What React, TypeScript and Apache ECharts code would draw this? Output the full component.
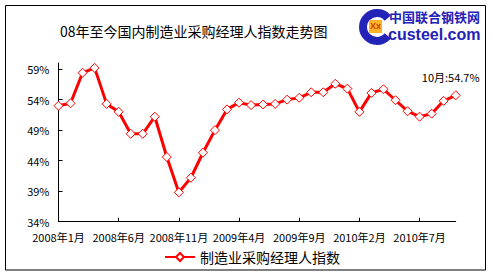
import React, { useEffect, useRef } from "react";
import * as echarts from "echarts";

const months: string[] = [
  "2008年1月", "2008年2月", "2008年3月", "2008年4月", "2008年5月", "2008年6月",
  "2008年7月", "2008年8月", "2008年9月", "2008年10月", "2008年11月", "2008年12月",
  "2009年1月", "2009年2月", "2009年3月", "2009年4月", "2009年5月", "2009年6月",
  "2009年7月", "2009年8月", "2009年9月", "2009年10月", "2009年11月", "2009年12月",
  "2010年1月", "2010年2月", "2010年3月", "2010年4月", "2010年5月", "2010年6月",
  "2010年7月", "2010年8月", "2010年9月", "2010年10月",
];

const pmi: number[] = [
  53.0, 53.4, 58.4, 59.2, 53.3, 52.0, 48.4, 48.4, 51.2, 44.6, 38.8, 41.2,
  45.3, 49.0, 52.4, 53.5, 53.1, 53.2, 53.3, 54.0, 54.3, 55.2, 55.2, 56.6,
  55.8, 52.0, 55.1, 55.7, 53.9, 52.1, 51.2, 51.7, 53.8, 54.7,
];

const yTicks: number[] = [34, 39, 44, 49, 54, 59];

const seriesName = "制造业采购经理人指数";
const titleText = "08年至今国内制造业采购经理人指数走势图";
const noteText = "10月:54.7%";

const FONT = 'SimSun, "Noto Sans CJK SC", sans-serif';

export default function App() {
  const ref = useRef<HTMLDivElement>(null);

  useEffect(() => {
    if (!ref.current) return;
    const chart = echarts.init(ref.current, null, { renderer: "svg" });
    const last = pmi.length - 1;
    chart.setOption({
      animation: false,
      backgroundColor: "#ffffff",
      title: {
        text: titleText,
        left: 60,
        top: 24,
        padding: 0,
        textStyle: { fontSize: 14, fontWeight: "normal", color: "#000", fontFamily: FONT },
      },
      legend: {
        data: [seriesName],
        left: 164,
        top: 250,
        padding: 0,
        itemWidth: 30,
        itemHeight: 10,
        textStyle: { fontSize: 14, color: "#000", fontFamily: FONT },
      },
      grid: { left: 58.5, right: 37.3, top: 63, bottom: 54.3, containLabel: false },
      xAxis: {
        type: "category",
        data: months,
        boundaryGap: false,
        axisLine: { lineStyle: { color: "#000", width: 1 } },
        axisTick: { inside: true, length: 4, interval: 4, lineStyle: { color: "#000" } },
        axisLabel: {
          interval: 4,
          fontSize: 11,
          color: "#000",
          margin: 10,
          fontFamily: FONT,
        },
        splitLine: { show: false },
      },
      yAxis: {
        type: "value",
        min: 34,
        max: 60,
        interval: 5,
        axisLine: { show: true, lineStyle: { color: "#000", width: 1 } },
        axisTick: { show: true, inside: true, length: 4, customValues: yTicks, lineStyle: { color: "#000" } },
        axisLabel: {
          customValues: yTicks,
          formatter: (v: number) => `${v}%`,
          fontSize: 11,
          color: "#000",
          margin: 9,
          fontFamily: FONT,
        },
        splitLine: { show: false },
      },
      series: [
        {
          name: seriesName,
          type: "line",
          data: pmi.map((v, i) =>
            i === last
              ? {
                  value: v,
                  label: {
                    show: true,
                    position: "top",
                    offset: [-5, -3],
                    formatter: noteText,
                    fontSize: 11,
                    color: "#000",
                    fontFamily: FONT,
                  },
                }
              : v
          ),
          symbol: "diamond",
          symbolSize: 9,
          showAllSymbol: true,
          lineStyle: { color: "#ff0000", width: 3 },
          itemStyle: { color: "#ffffff", borderColor: "#ff0000", borderWidth: 1 },
          emphasis: { disabled: true },
        },
      ],
      color: ["#ff0000"],
      graphic: [
        {
          type: "rect",
          shape: { x: 5.5, y: 5.5, width: 480, height: 264.5 },
          style: { fill: "none", stroke: "#000", lineWidth: 1 },
          silent: true,
        },
        {
          type: "arc",
          shape: { cx: 377, cy: 27, r: 14, startAngle: Math.PI * 0.22, endAngle: Math.PI * 1.78, clockwise: true },
          style: { stroke: "#2323b8", lineWidth: 8, fill: "none" },
          silent: true,
        },
        {
          type: "rect",
          shape: { x: 369, y: 20, width: 13, height: 13 },
          style: { fill: "#ffb428", stroke: "none" },
          silent: true,
        },
        {
          type: "text",
          x: 370,
          y: 21,
          style: { text: "Xx", fill: "#d04000", fontSize: 9, fontWeight: "bold", fontFamily: "Liberation Sans, Arial, sans-serif" },
          silent: true,
        },
        {
          type: "text",
          x: 389,
          y: 10,
          style: { text: "中国联合钢铁网", fill: "#2323b8", fontSize: 13, fontWeight: "bold", fontFamily: '"Noto Sans CJK SC", sans-serif' },
          silent: true,
        },
        {
          type: "text",
          x: 388,
          y: 26,
          style: { text: "custeel.com", fill: "#2323b8", fontSize: 16, fontWeight: "bold", fontFamily: "Liberation Sans, Arial, sans-serif" },
          silent: true,
        },
      ],
    });
    return () => chart.dispose();
  }, []);

  return (
    <div
      ref={ref}
      style={{ position: "fixed", left: 0, top: 0, width: 493, height: 276 }}
    />
  );
}
